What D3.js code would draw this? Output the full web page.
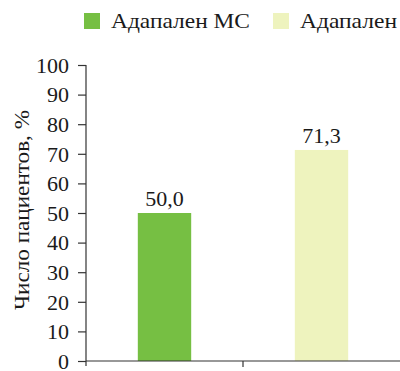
<!DOCTYPE html>
<html>
<head>
<meta charset="utf-8">
<script src="https://cdn.jsdelivr.net/npm/d3@7"></script>
</head>
<body style="margin:0">
<svg id="chart" width="400" height="371"></svg>
<script>
// Share of patients per treatment group
const categories = ["Адапален МС", "Адапален"];
const values = [50.0, 71.3];
const valueLabels = ["50,0", "71,3"];
const colors = ["#76bf43", "#eef3be"];
const yTicks = [0, 10, 20, 30, 40, 50, 60, 70, 80, 90, 100];
const yTitle = "Число пациентов, %";

const FONT = "Liberation Serif, Times New Roman, serif";
const INK = "#1a1a1a";
const svg = d3.select("#chart");
const margin = { left: 86, right: 0, top: 65, bottom: 10 };
const width = 400, height = 371;
const axisColor = "#333";

const x = d3.scaleBand()
  .domain(categories)
  .range([margin.left, width - margin.right])
  .paddingInner(0)
  .paddingOuter(0);

const y = d3.scaleLinear()
  .domain([0, 100])
  .range([height - margin.bottom, margin.top]);

const barWidth = x.bandwidth() * 0.34;

function serif(sel, size) {
  return sel.style("font-family", FONT)
    .style("font-size", size + "px")
    .attr("fill", INK);
}

// bars
svg.append("g")
  .selectAll("rect")
  .data(categories)
  .join("rect")
  .attr("x", (d) => x(d) + x.bandwidth() / 2 - barWidth / 2)
  .attr("y", (d, i) => y(values[i]))
  .attr("width", barWidth)
  .attr("height", (d, i) => y(0) - y(values[i]))
  .attr("fill", (d, i) => colors[i]);

// value labels above bars
serif(svg.append("g")
  .selectAll("text")
  .data(categories)
  .join("text")
  .attr("x", (d) => x(d) + x.bandwidth() / 2)
  .attr("y", (d, i) => y(values[i]) - 7)
  .attr("text-anchor", "middle"), 22)
  .text((d, i) => valueLabels[i]);

// y axis
const yAxis = svg.append("g")
  .attr("transform", `translate(${margin.left},0)`)
  .call(d3.axisLeft(y).tickValues(yTicks).tickSize(8).tickPadding(9).tickFormat(d3.format("d")));
yAxis.select(".domain").attr("stroke", axisColor).attr("stroke-width", 1.2).attr("d", `M0,${y(100)}V${y(0) + 5}`);
yAxis.selectAll(".tick line").attr("stroke", axisColor).attr("stroke-width", 1.2);
serif(yAxis.selectAll(".tick text"), 22).attr("dy", "0.33em");

// x axis with a separator between the two groups
const xAxisG = svg.append("g").attr("transform", `translate(0,${y(0)})`);
xAxisG.append("line")
  .attr("x1", margin.left).attr("x2", width)
  .attr("y1", 0).attr("y2", 0)
  .attr("stroke", axisColor).attr("stroke-width", 1.2);
xAxisG.selectAll("line.sep")
  .data(categories.slice(1))
  .join("line")
  .attr("class", "sep")
  .attr("x1", (d) => x(d)).attr("x2", (d) => x(d))
  .attr("y1", 0).attr("y2", 6)
  .attr("stroke", axisColor).attr("stroke-width", 1.2);

// y axis title
serif(svg.append("text")
  .attr("transform", `translate(29,${(y(0) + y(100)) / 2 - 3}) rotate(-90)`)
  .attr("text-anchor", "middle")
  .attr("textLength", 200)
  .attr("lengthAdjust", "spacingAndGlyphs"), 21)
  .text(yTitle);

// legend
const legendX = [84, 273];
const legendLen = [139, 97];
const items = svg.append("g").selectAll("g")
  .data(categories)
  .join("g")
  .attr("transform", (d, i) => `translate(${legendX[i]},13)`);
items.append("rect")
  .attr("width", 16).attr("height", 16)
  .attr("fill", (d, i) => colors[i]);
serif(items.append("text")
  .attr("x", 27).attr("y", 15)
  .attr("textLength", (d, i) => legendLen[i])
  .attr("lengthAdjust", "spacingAndGlyphs"), 22)
  .text((d) => d);
</script>
</body>
</html>
